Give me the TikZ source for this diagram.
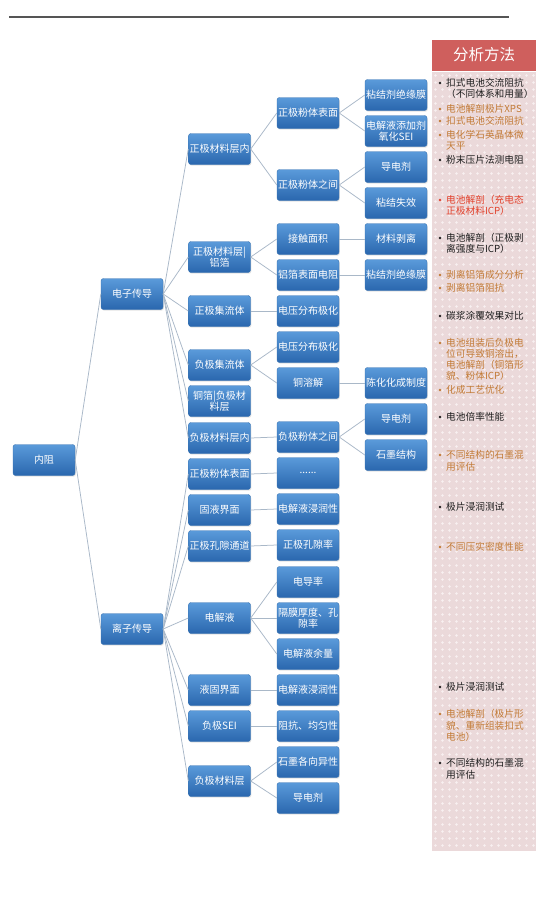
\documentclass[tikz,border=0pt]{standalone}
\usepackage{fontspec}
\setmainfont{Noto Sans CJK SC}
\usetikzlibrary{shadows}
\definecolor{boxtop}{HTML}{5A9ADA}
\definecolor{boxbot}{HTML}{2A67AE}
\definecolor{boxedge}{HTML}{3A74B2}
\definecolor{linec}{HTML}{A9B8C8}
\definecolor{hdr}{HTML}{CF5F5D}
\definecolor{panel}{HTML}{EBD9DA}
\definecolor{dotc}{HTML}{F8F0F0}
\definecolor{tblack}{HTML}{1E1E1E}
\definecolor{torange}{HTML}{C27A35}
\definecolor{tred}{HTML}{E2412C}
\definecolor{rulec}{HTML}{555555}
\begin{document}
\begin{tikzpicture}[x=1pt,y=-1pt,
  bx/.style={rounded corners=2.5pt, top color=boxtop, bottom color=boxbot,
    draw=boxedge, line width=0.4pt, minimum width=62pt, minimum height=31pt,
    text=white, font=\fontsize{10}{11.5}\selectfont, align=center, inner sep=1pt,
    drop shadow={opacity=0.22, shadow xshift=0.8pt, shadow yshift=-1.2pt}},
  ln/.style={draw=linec, line width=0.75pt},
  ptxt/.style={anchor=west, inner sep=0pt, font=\fontsize{9.7}{11}\selectfont}]
\useasboundingbox (0,0) rectangle (550,902);
\fill[white] (0,0) rectangle (550,902);
% top rule
\coordinate (r1) at (9,17);
\coordinate (r2) at (509,17);
\draw[rulec, line width=1.1pt] (r1) -- (r2);
% analysis panel
\fill[panel] (432,72) rectangle (536,851);
\foreach \i in {0,...,14}
  \foreach \j in {0,...,110}
    \fill[dotc] (435.5+\i*7,75.5+\j*7) circle (1.3pt);
\node[fill=hdr, minimum width=104pt, minimum height=31pt, inner sep=0pt,
  text=white, font=\fontsize{15.5}{17}\selectfont] (hdr) at (484,55) {分析方法};

% level 0/1
\node[bx] (n0) at (44,460) {内阻};
\node[bx] (e1) at (132,294) {电子传导};
\node[bx] (e2) at (132,629) {离子传导};
% level 2
\node[bx] (a1) at (219.5,149) {正极材料层内};
\node[bx] (a2) at (219.5,257) {正极材料层|\\铝箔};
\node[bx] (a3) at (219.5,311) {正极集流体};
\node[bx] (a4) at (219.5,365) {负极集流体};
\node[bx] (a5) at (219.5,401) {铜箔|负极材\\料层};
\node[bx] (a6) at (219.5,438) {负极材料层内};
\node[bx] (a7) at (219.5,474) {正极粉体表面};
\node[bx] (a8) at (219.5,510) {固液界面};
\node[bx] (a9) at (219.5,546) {正极孔隙通道};
\node[bx] (a10) at (219.5,618) {电解液};
\node[bx] (a11) at (219.5,690) {液固界面};
\node[bx] (a12) at (219.5,726) {负极SEI};
\node[bx] (a13) at (219.5,781) {负极材料层};
% level 3
\node[bx] (b1) at (308,113) {正极粉体表面};
\node[bx] (b2) at (308,185) {正极粉体之间};
\node[bx] (b3) at (308,239) {接触面积};
\node[bx] (b4) at (308,275) {铝箔表面电阻};
\node[bx] (b5) at (308,311) {电压分布极化};
\node[bx] (b6) at (308,347) {电压分布极化};
\node[bx] (b7) at (308,383) {铜溶解};
\node[bx] (b8) at (308,437) {负极粉体之间};
\node[bx] (b9) at (308,473) {......};
\node[bx] (b10) at (308,509) {电解液浸润性};
\node[bx] (b11) at (308,545) {正极孔隙率};
\node[bx] (b12) at (308,582) {电导率};
\node[bx] (b13) at (308,618) {隔膜厚度、孔\\隙率};
\node[bx] (b14) at (308,654) {电解液余量};
\node[bx] (b15) at (308,690) {电解液浸润性};
\node[bx] (b16) at (308,726) {阻抗、均匀性};
\node[bx] (b17) at (308,762) {石墨各向异性};
\node[bx] (b18) at (308,798) {导电剂};
% level 4
\node[bx] (c1) at (396,95) {粘结剂绝缘膜};
\node[bx] (c2) at (396,131) {电解液添加剂\\氧化SEI};
\node[bx] (c3) at (396,167) {导电剂};
\node[bx] (c4) at (396,203) {粘结失效};
\node[bx] (c5) at (396,239) {材料剥离};
\node[bx] (c6) at (396,275) {粘结剂绝缘膜};
\node[bx] (c7) at (396,383) {陈化化成制度};
\node[bx] (c8) at (396,419) {导电剂};
\node[bx] (c9) at (396,455) {石墨结构};

% connectors
\foreach \p/\c in {n0/e1,n0/e2,
  e1/a1,e1/a2,e1/a3,e1/a4,e1/a5,e1/a6,
  e2/a7,e2/a8,e2/a9,e2/a10,e2/a11,e2/a12,e2/a13,
  a1/b1,a1/b2,a2/b3,a2/b4,a3/b5,a4/b6,a4/b7,a6/b8,a7/b9,a8/b10,a9/b11,
  a10/b12,a10/b13,a10/b14,a11/b15,a12/b16,a13/b17,a13/b18,
  b1/c1,b1/c2,b2/c3,b2/c4,b3/c5,b4/c6,b7/c7,b8/c8,b8/c9}
  \draw[ln] (\p.east) -- (\c.west);

% panel text
\foreach \yy/\col/\bul/\txt [count=\k] in {
  83/tblack/1/扣式电池交流阻抗,
  94/tblack/0/（不同体系和用量）,
  109/torange/1/电池解剖极片XPS,
  121/torange/1/扣式电池交流阻抗,
  135/torange/1/电化学石英晶体微,
  146/torange/0/天平,
  160/tblack/1/粉末压片法测电阻,
  200/tred/1/电池解剖（充电态,
  211/tred/0/正极材料ICP）,
  238/tblack/1/电池解剖（正极剥,
  249/tblack/0/离强度与ICP）,
  275/torange/1/剥离铝箔成分分析,
  288/torange/1/剥离铝箔阻抗,
  316/tblack/1/碳浆涂覆效果对比,
  343/torange/1/电池组装后负极电,
  354/torange/0/位可导致铜溶出，,
  365/torange/0/电池解剖（铜箔形,
  376/torange/0/貌、粉体ICP）,
  390/torange/1/化成工艺优化,
  417/tblack/1/电池倍率性能,
  455/torange/1/不同结构的石墨混,
  467/torange/0/用评估,
  507/tblack/1/极片浸润测试,
  547/torange/1/不同压实密度性能,
  687/tblack/1/极片浸润测试,
  714/torange/1/电池解剖（极片形,
  726/torange/0/貌、重新组装扣式,
  737/torange/0/电池）,
  763/tblack/1/不同结构的石墨混,
  775/tblack/0/用评估}
{
  \node[ptxt, text=\col] (t\k) at (446,\yy) {\txt};
  \ifnum\bul=1 \fill[\col] (440,\yy) circle (1.4pt); \fi
}
\end{tikzpicture}
\end{document}
